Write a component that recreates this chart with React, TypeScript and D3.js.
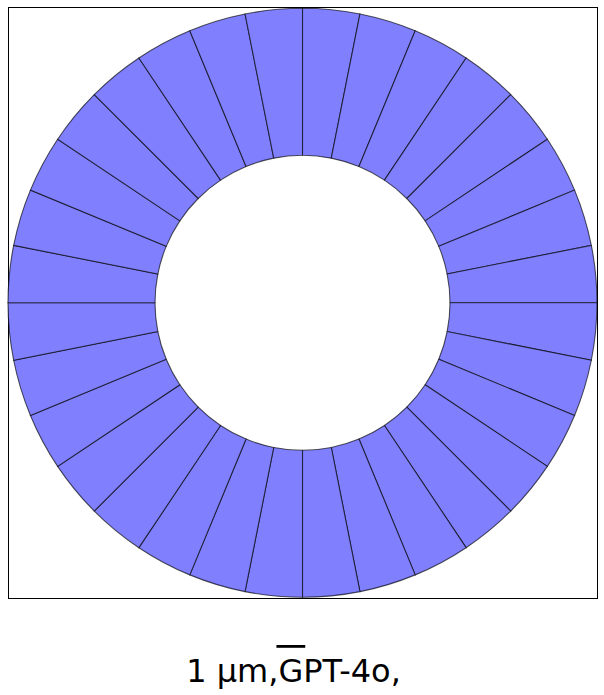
import React, { useEffect, useRef } from "react";
import * as d3 from "d3";

const segmentLabels: string[] = Array.from({ length: 32 }, (_, i) => `S${i + 1}`);
const segmentValues: number[] = [
  1, 1, 1, 1, 1, 1, 1, 1, 1, 1, 1, 1, 1, 1, 1, 1,
  1, 1, 1, 1, 1, 1, 1, 1, 1, 1, 1, 1, 1, 1, 1, 1,
];
const titleParts: string[] = ["1 μm,", "G", "PT-4o,"];

export default function App() {
  const ref = useRef<SVGSVGElement | null>(null);
  useEffect(() => {
    const svg = d3.select(ref.current);
    svg.selectAll("*").remove();
    const cx = 302.5, cy = 302.8, rOut = 294.5, rIn = 147.5;
    svg.append("rect").attr("x", 8.5).attr("y", 7.5).attr("width", 589).attr("height", 591)
      .attr("fill", "white").attr("stroke", "#000").attr("stroke-width", 1);
    const data = segmentLabels.map((l, i) => ({ label: l, value: segmentValues[i] }));
    const pie = d3.pie<{ label: string; value: number }>().value(d => d.value).sort(null)
      .startAngle(0).endAngle(2 * Math.PI);
    const arc = d3.arc<d3.PieArcDatum<{ label: string; value: number }>>()
      .innerRadius(rIn).outerRadius(rOut);
    const g = svg.append("g").attr("transform", `translate(${cx},${cy})`);
    g.selectAll("path").data(pie(data)).enter().append("path")
      .attr("d", arc as any)
      .attr("fill", "#8080ff")
      .attr("stroke", "rgba(0,0,0,0.65)")
      .attr("stroke-width", 1.1);
    const text = svg.append("text").attr("x", 293.5).attr("y", 682)
      .attr("text-anchor", "middle")
      .attr("font-family", "DejaVu Sans").attr("font-size", 32).attr("fill", "#000");
    titleParts.forEach(p => text.append("tspan").text(p));
    const node = text.node() as SVGTextElement;
    try {
      const start = node.getStartPositionOfChar(titleParts[0].length);
      const w = node.getSubStringLength(titleParts[0].length, 1);
      svg.append("rect").attr("x", start.x - 2).attr("y", 645).attr("width", w + 4).attr("height", 2.8).attr("fill", "#000");
    } catch (e) {}
  }, []);
  return (
    <svg ref={ref} width={604} height={695} style={{ position: "absolute", left: 0, top: 0 }} />
  );
}
